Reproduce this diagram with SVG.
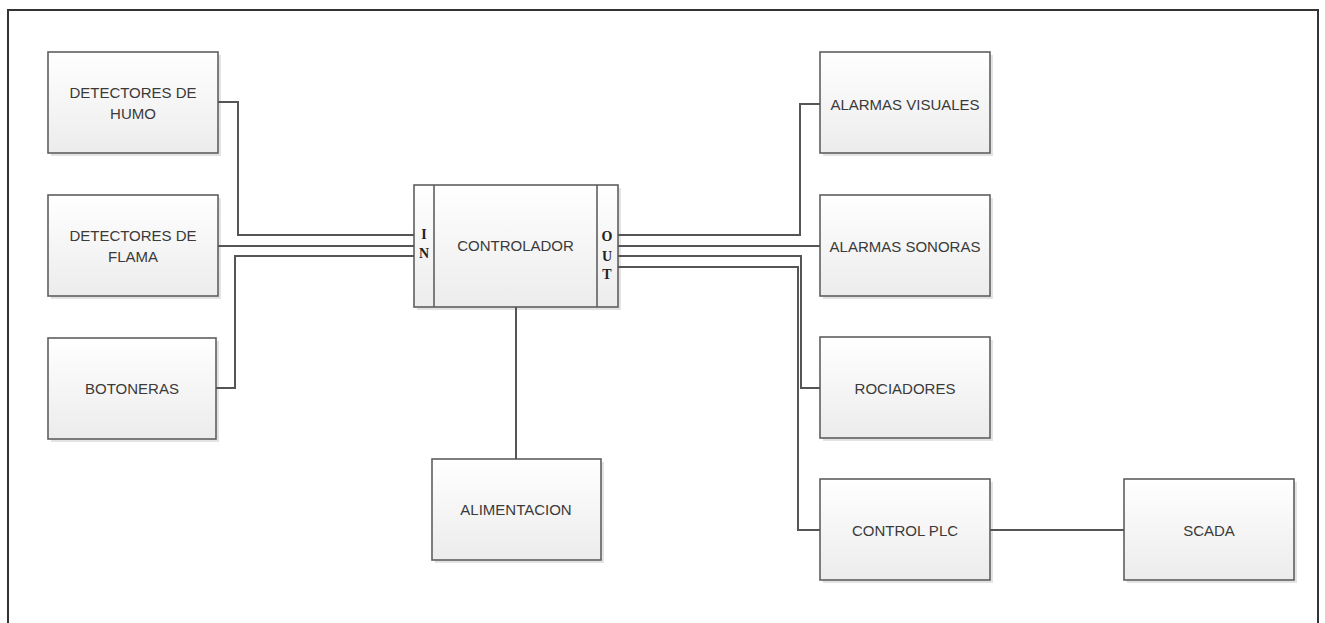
<svg xmlns="http://www.w3.org/2000/svg" width="1325" height="623" viewBox="0 0 1325 623">
<defs>
<linearGradient id="g" x1="0" y1="0" x2="0" y2="1">
<stop offset="0" stop-color="#ffffff"/>
<stop offset="1" stop-color="#ececec"/>
</linearGradient>
<style>
.sh{fill:#e3e3e3}
.box{fill:url(#g);stroke:#5f5f5f;stroke-width:1.6}
.t{font-family:"Liberation Sans",Arial,sans-serif;font-size:15px;fill:#3a3a3a;text-anchor:middle;dominant-baseline:central}
.io{font-family:"Liberation Serif","Times New Roman",serif;font-size:14px;font-weight:bold;fill:#222;text-anchor:middle;dominant-baseline:central}
.c{fill:none;stroke:#555;stroke-width:2}
</style>
</defs>
<rect width="1325" height="623" fill="#fff"/>
<path d="M8,630 V10 H1318 V630" fill="none" stroke="#333" stroke-width="2"/>
<g id="humo"><rect class="sh" x="51" y="55" width="170" height="101"/><rect class="box" x="48" y="52" width="170" height="101"/><text class="t" x="133" y="92">DETECTORES DE</text><text class="t" x="133" y="113">HUMO</text></g>
<g id="flama"><rect class="sh" x="51" y="198" width="170" height="101"/><rect class="box" x="48" y="195" width="170" height="101"/><text class="t" x="133" y="235">DETECTORES DE</text><text class="t" x="133" y="256">FLAMA</text></g>
<g id="botoneras"><rect class="sh" x="51" y="341" width="168" height="101"/><rect class="box" x="48" y="338" width="168" height="101"/><text class="t" x="132" y="388">BOTONERAS</text></g>
<g id="controlador"><rect class="sh" x="417" y="188" width="204" height="122"/><rect class="box" x="414" y="185" width="204" height="122"/>
<line x1="434" y1="185" x2="434" y2="307" stroke="#5f5f5f" stroke-width="1.6"/>
<line x1="597" y1="185" x2="597" y2="307" stroke="#5f5f5f" stroke-width="1.6"/>
<text class="t" x="515.5" y="245">CONTROLADOR</text>
<text class="io" x="424" y="234">I</text><text class="io" x="424" y="253">N</text>
<text class="io" x="607" y="236">O</text><text class="io" x="607" y="256">U</text><text class="io" x="607" y="274">T</text></g>
<g id="alimentacion"><rect class="sh" x="435" y="462" width="169" height="101"/><rect class="box" x="432" y="459" width="169" height="101"/><text class="t" x="516" y="509">ALIMENTACION</text></g>
<g id="visuales"><rect class="sh" x="823" y="55" width="170" height="101"/><rect class="box" x="820" y="52" width="170" height="101"/><text class="t" x="905" y="104">ALARMAS VISUALES</text></g>
<g id="sonoras"><rect class="sh" x="823" y="198" width="170" height="101"/><rect class="box" x="820" y="195" width="170" height="101"/><text class="t" x="905" y="246">ALARMAS SONORAS</text></g>
<g id="rociadores"><rect class="sh" x="823" y="340" width="170" height="101"/><rect class="box" x="820" y="337" width="170" height="101"/><text class="t" x="905" y="388">ROCIADORES</text></g>
<g id="plc"><rect class="sh" x="823" y="482" width="170" height="101"/><rect class="box" x="820" y="479" width="170" height="101"/><text class="t" x="905" y="530">CONTROL PLC</text></g>
<g id="scada"><rect class="sh" x="1127" y="482" width="170" height="101"/><rect class="box" x="1124" y="479" width="170" height="101"/><text class="t" x="1209" y="530">SCADA</text></g>
<g id="connectors">
<path class="c" d="M218,102 H238 V235 H414"/>
<path class="c" d="M218,246 H414"/>
<path class="c" d="M216,388 H235 V256 H414"/>
<path class="c" d="M618,235 H800 V104 H820"/>
<path class="c" d="M618,246 H820"/>
<path class="c" d="M618,256 H801 V388 H820"/>
<path class="c" d="M618,267 H798 V530 H820"/>
<path class="c" d="M516,307 V459"/>
<path class="c" d="M990,530 H1124"/>
</g>
</svg>
